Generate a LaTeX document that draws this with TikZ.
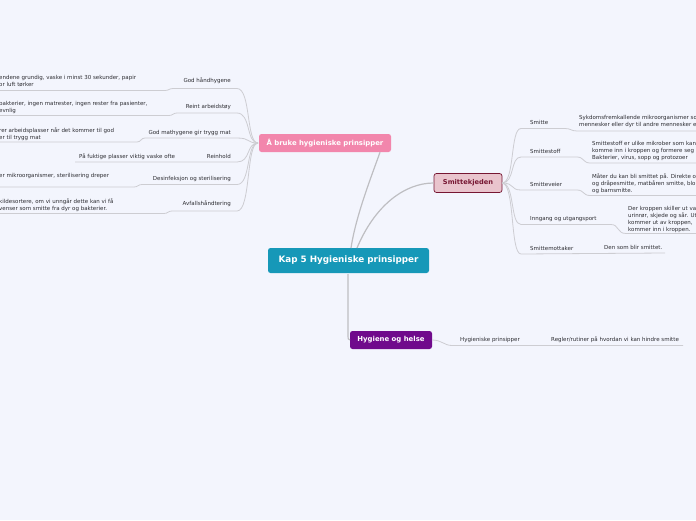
\documentclass[tikz,border=0pt]{standalone}
\usepackage{fontspec}
\setmainfont{DejaVu Sans}
\begin{document}
\begin{tikzpicture}[x=1pt,y=-1pt]
\definecolor{bg}{RGB}{243,245,253}
\definecolor{lineA}{RGB}{190,190,194}
\definecolor{lineB}{RGB}{205,205,210}
\definecolor{txt}{RGB}{45,45,50}
\definecolor{teal}{RGB}{22,152,184}
\definecolor{pinkc}{RGB}{242,134,172}
\definecolor{rosef}{RGB}{233,196,205}
\definecolor{rosed}{RGB}{118,22,50}
\definecolor{purp}{RGB}{112,10,140}
\tikzset{
  mainline/.style={draw=lineA, line width=1.2pt},
  subline/.style={draw=lineB, line width=0.8pt},
  small/.style={font=\fontsize{5.5}{7.1}\selectfont, text=txt, inner sep=0pt, align=left},
  topicbox/.style={rounded corners=2.5pt, inner sep=0pt, font=\bfseries\fontsize{6.9}{8}\selectfont},
}
\clip (0,0) rectangle (696,520);
\fill[bg] (0,0) rectangle (696,520);

% main nodes
\node[topicbox, fill=teal, text=white, minimum width=161pt, minimum height=25pt,
      font=\bfseries\fontsize{8.8}{10}\selectfont] (c) at (348.5,260.5) {Kap 5 Hygieniske prinsipper};
\node[topicbox, fill=pinkc, text=white, minimum width=132pt, minimum height=18pt] (pk) at (325,143) {Å bruke hygieniske prinsipper};
\node[topicbox, fill=rosef, draw=rosed, line width=0.7pt, text=rosed, minimum width=68pt, minimum height=19pt,
      font=\bfseries\fontsize{6.65}{8}\selectfont] (sk) at (468,183) {Smittekjeden};
\node[topicbox, fill=purp, text=white, minimum width=82pt, minimum height=18pt] (hh) at (391,340) {Hygiene og helse};

% main connectors
\coordinate (cT1) at (351,248);
\coordinate (cT2) at (357,248);
\coordinate (cB) at (348,274);
\coordinate (cB2) at (348,336);
\draw[mainline] (cT1) .. controls (356,215) and (372,175) .. (pk.south -| 380,0);
\draw[mainline] (cT2) .. controls (375,205) and (405,183) .. (sk.west);
\draw[mainline] (cB) -- (cB2) .. controls (348,339) .. (hh.west);

% ---------- left branches ----------
\node[small, anchor=east] (l1) at (231,81) {God håndhygene};
\node[small, anchor=east] (l2) at (231,106.5) {Reint arbeidstøy};
\node[small, anchor=east] (l3) at (231,133) {God mathygene gir trygg mat};
\node[small, anchor=east] (l4) at (231,156) {Reinhold};
\node[small, anchor=east] (l5) at (231,179) {Desinfeksjon og sterilisering};
\node[small, anchor=east] (l6) at (231,204) {Avfallshåndtering};

\node[small, anchor=base west] (t1) at (-1,86.1) {endene grundig, vaske i minst 30 sekunder, papir\\or luft tørker};
\node[small, anchor=base west] (t2) at (-1,112.1) {bakterier, ingen matrester, ingen rester fra pasienter,\\evnlig};
\node[small, anchor=base west] (t3) at (-1,139.1) {rer arbeidsplasser når det kommer til god\\er til trygg mat};
\node[small, anchor=base west] (t4) at (79,158) {På fuktige plasser viktig vaske ofte};
\node[small, anchor=base west] (t5) at (-1,177) {er mikroorganismer, sterilisering dreper};
\node[small, anchor=base west] (t6) at (-1,210.1) {kildesortere, om vi unngår dette kan vi få\\venser som smitte fra dyr og bakterier.};

\coordinate (pkw) at (258,143);
% branch 1
\coordinate (a1) at (237,88.5); \coordinate (b1) at (173,88.5);
\coordinate (d1) at (165,90.5); \coordinate (e1) at (-2,90.5);
\draw[subline] (pkw) .. controls (246,143) and (251,88.5) .. (a1) -- (b1) .. controls (169,88.5) and (169,90.5) .. (d1) -- (e1);
% branch 2
\coordinate (a2) at (237,113); \coordinate (b2) at (177,113);
\coordinate (d2) at (169,115.5); \coordinate (e2) at (-2,115.5);
\draw[subline] (pkw) .. controls (246,143) and (251,113) .. (a2) -- (b2) .. controls (173,113) and (173,115.5) .. (d2) -- (e2);
% branch 3
\coordinate (a3) at (237,138); \coordinate (b3) at (145,138);
\coordinate (d3) at (137,142); \coordinate (e3) at (-2,142);
\draw[subline] (pkw) .. controls (246,143) and (251,138) .. (a3) -- (b3) .. controls (141,138) and (141,142) .. (d3) -- (e3);
% branch 4
\coordinate (a4) at (237,162); \coordinate (e4) at (75,162);
\draw[subline] (pkw) .. controls (246,143) and (251,162) .. (a4) -- (e4);
% branch 5
\coordinate (a5) at (237,184.5); \coordinate (b5) at (142,184.5);
\coordinate (d5) at (134,187); \coordinate (e5) at (-2,187);
\draw[subline] (pkw) .. controls (246,143) and (251,184.5) .. (a5) -- (b5) .. controls (138,184.5) and (138,187) .. (d5) -- (e5);
% branch 6
\coordinate (a6) at (237,211); \coordinate (b6) at (172,211);
\coordinate (d6) at (164,213.5); \coordinate (e6) at (-2,213.5);
\draw[subline] (pkw) .. controls (246,143) and (251,211) .. (a6) -- (b6) .. controls (168,211) and (168,213.5) .. (d6) -- (e6);

% ---------- right branches ----------
\node[small, anchor=west] (r1) at (530,122) {Smitte};
\node[small, anchor=west] (r2) at (530,151) {Smittestoff};
\node[small, anchor=west] (r3) at (530,184.5) {Smitteveier};
\node[small, anchor=west] (r4) at (530,219) {Inngang og utgangsport};
\node[small, anchor=west] (r5) at (530,248) {Smittemottaker};

\node[small, anchor=base west] (s1) at (579,126.6) {Sykdomsfremkallende mikroorganismer so\\mennesker eller dyr til andre mennesker e};
\node[small, anchor=base west] (s2) at (592,159.2) {Smittestoff er ulike mikrober som kan\\komme inn i kroppen og formere seg\\Bakterier, virus, sopp og protozoer};
\node[small, anchor=base west] (s3) at (592,192.2) {Måter du kan bli smittet på. Direkte o\\og dråpesmitte, matbåren smitte, blo\\og barnsmitte.};
\node[small, anchor=base west] (s4) at (628,231.3) {Der kroppen skiller ut va\\urinrør, skjede og sår. Ut\\kommer ut av kroppen,\\kommer inn i kroppen.};
\node[small, anchor=base west] (s5) at (604,249) {Den som blir smittet.};

\coordinate (skE) at (502,183);
% r1
\coordinate (p1) at (521,128.5); \coordinate (q1) at (565,128.5);
\coordinate (u1) at (577,131); \coordinate (v1) at (698,131);
\draw[subline] (skE) .. controls (515,183) and (510,128.5) .. (p1) -- (q1) .. controls (571,128.5) and (571,131) .. (u1) -- (v1);
% r2
\coordinate (p2) at (521,157); \coordinate (q2) at (577,157);
\coordinate (u2) at (590,163); \coordinate (v2) at (698,163);
\draw[subline] (skE) .. controls (515,183) and (510,157) .. (p2) -- (q2) .. controls (584,157) and (583,163) .. (u2) -- (v2);
% r3
\coordinate (p3) at (521,190); \coordinate (q3) at (577,190);
\coordinate (u3) at (590,195.5); \coordinate (v3) at (698,195.5);
\draw[subline] (skE) .. controls (515,183) and (510,190) .. (p3) -- (q3) .. controls (584,190) and (583,195.5) .. (u3) -- (v3);
% r4
\coordinate (p4) at (521,224.5); \coordinate (q4) at (611,224.5);
\coordinate (u4) at (626,233.5); \coordinate (v4) at (698,233.5);
\draw[subline] (skE) .. controls (515,183) and (510,224.5) .. (p4) -- (q4) .. controls (619,224.5) and (617,233.5) .. (u4) -- (v4);
% r5
\coordinate (p5) at (521,254); \coordinate (v5) at (665,253);
\draw[subline] (skE) .. controls (515,183) and (510,254) .. (p5) -- (v5);

% ---------- bottom branch ----------
\node[small, anchor=west] (h1) at (460,340) {Hygieniske prinsipper};
\node[small, anchor=west] (h2) at (551,340) {Regler/rutiner på hvordan vi kan hindre smitte};
\coordinate (hE) at (432,340);
\coordinate (hm) at (452,345.5); \coordinate (hz) at (683,345.5);
\draw[subline] (hE) .. controls (442,340) and (444,345.5) .. (hm) -- (hz);
\end{tikzpicture}
\end{document}
